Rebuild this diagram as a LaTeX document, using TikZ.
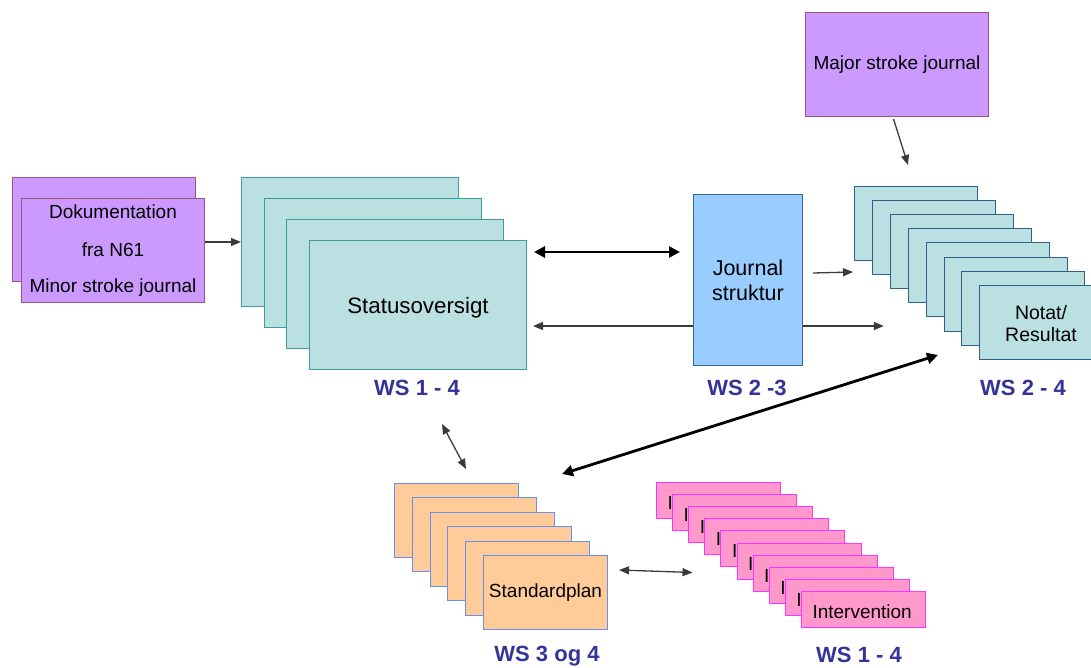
\documentclass[tikz,border=0pt]{standalone}
\usepackage{fontspec}
\setmainfont{Liberation Sans}
\usetikzlibrary{arrows.meta,calc}

\definecolor{lilac}{HTML}{CC99FF}
\definecolor{lilacline}{HTML}{A0507A}
\definecolor{teal}{HTML}{BAE0E2}
\definecolor{tealline}{HTML}{3A9C9C}
\definecolor{noteline}{HTML}{2F5F8C}
\definecolor{skyblue}{HTML}{99CCFF}
\definecolor{skyline}{HTML}{336699}
\definecolor{peach}{HTML}{FFCC99}
\definecolor{peachline}{HTML}{6A8FF0}
\definecolor{rose}{HTML}{FF99CC}
\definecolor{roseline}{HTML}{FF33FF}
\definecolor{wsblue}{HTML}{333399}
\definecolor{wire}{HTML}{3A3A3A}

\tikzset{
  card/.style={draw, line width=1pt, inner sep=0pt, anchor=north west, align=center,
    font=\fontsize{19}{23}\selectfont},
  lilaccard/.style={card, fill=lilac, draw=lilacline, minimum width=183, minimum height=104},
  statuscard/.style={card, fill=teal, draw=tealline, minimum width=217, minimum height=129},
  notecard/.style={card, fill=teal, draw=noteline, minimum width=123, minimum height=74},
  journalcard/.style={card, fill=skyblue, draw=skyline, minimum width=109, minimum height=171},
  plancard/.style={card, fill=peach, draw=peachline, minimum width=124, minimum height=74},
  actcard/.style={card, fill=rose, draw=roseline, minimum width=124, minimum height=36,
    text height=18pt, text depth=0pt},
  wslabel/.style={font=\bfseries\fontsize{22}{26}\selectfont, text=wsblue, inner sep=0pt},
  thinarrow/.style={draw=wire, line width=1.3pt, -{Triangle[length=10pt,width=8pt]}},
  thinboth/.style={draw=wire, line width=1.3pt, {Triangle[length=10pt,width=8pt]}-{Triangle[length=10pt,width=8pt]}},
  thickboth/.style={draw=black, line width=2.8pt, {Triangle[length=11pt,width=11pt]}-{Triangle[length=11pt,width=11pt]}},
}

\begin{document}
\begin{tikzpicture}[x=1pt,y=-1pt]
\useasboundingbox (0,0) rectangle (1091,668);

% documentation from N61
\node[lilaccard] (pb) at (12,177) {};
\node[lilaccard] (pf) at (21,198) {\rule{0pt}{4pt}Dokumentation\\[15pt]fra N61\\[13pt]Minor stroke journal};

% status overview stack
\foreach \i in {1,2,3} {
  \node[statuscard] (st\i) at ({241+22.7*(\i-1)},{177+21*(\i-1)}) {};
}
\node[statuscard, font=\fontsize{22.3}{26}\selectfont] (st4) at (309,240) {\rule{0pt}{22pt}Statusoversigt};
\node[wslabel] (ws1) at (417,388) {WS 1 - 4};

% journal structure
\node[journalcard, font=\fontsize{21.5}{25}\selectfont] (j) at (693,194) {Journal\\struktur};
\node[wslabel] (ws2) at (747,388) {WS 2 -3};

% major stroke journal
\node[lilaccard, minimum height=104] (mj) at (805,12) {Major stroke journal};

% notes / results stack
\foreach \i in {1,...,7} {
  \node[notecard] (nt\i) at ({854+17.9*(\i-1)},{186+14.1*(\i-1)}) {};
}
\node[notecard, font=\fontsize{19.5}{22}\selectfont] (nt8) at (979,285) {\rule{0pt}{16pt}Notat/\\Resultat};
\node[wslabel] (ws3) at (1023,388) {WS 2 - 4};

% standard plan stack
\foreach \i in {1,...,5} {
  \node[plancard] (sp\i) at ({394+17.8*(\i-1)},{483+14.4*(\i-1)}) {};
}
\node[plancard] (sp6) at (483,555) {Standardplan};
\node[wslabel] (ws4) at (547,656) {WS 3 og 4};

% intervention stack: each card repeats the label, only its first letter peeks out
\foreach \i in {1,...,10} {
  \node[actcard] (iv\i) at ({656+16.1*(\i-1)},{482+12.1*(\i-1)}) {Intervention\hspace{2.5pt}};
}
\node[wslabel] (ws5) at (859,655) {WS 1 - 4};

% connectors
\coordinate (rowmid) at (0,326);
\draw[thinarrow] (pf.east |- st1.west) -- (st1.west);
\draw[thickboth] ($(st4.north east)+(7,12)$) -- ($(j.north west)+(-13,58)$);
\draw[thinarrow] (j.west |- rowmid) -- ($(st4.east |- rowmid)+(6,0)$);
\draw[thinarrow] (j.east |- rowmid) -- ($(nt3.west |- rowmid)+(-6,0)$);
\draw[thinarrow] ($(j.north east)+(10,79)$) -- ($(nt1.south west)+(-1,11)$);
\draw[thinarrow] ($(mj.south)+(-3.5,2)$) -- ($(nt1.north west)+(54,-21)$);
\draw[thickboth] ($(sp1.north east)+(43,-9)$) -- ($(nt8.north west)+(-41,70)$);
\draw[thinboth] ($(st4.south west)+(133,54)$) -- ($(sp1.north west)+(72,-14)$);
\draw[thinboth] ($(sp6.north east)+(11,15)$) -- ($(iv6.north west)+(-44,30)$);
\end{tikzpicture}
\end{document}
